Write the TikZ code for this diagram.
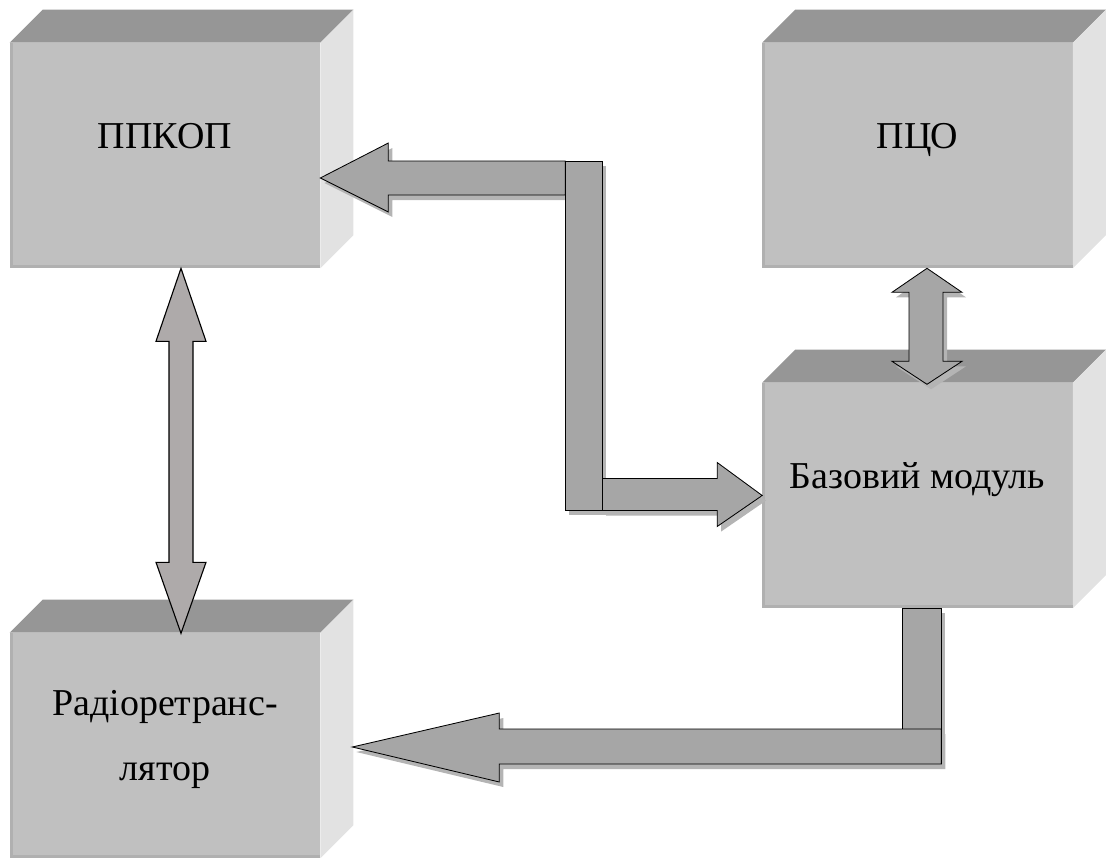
\documentclass[tikz,border=0pt]{standalone}
\usepackage{fontspec}
\setmainfont{Liberation Serif}
\usetikzlibrary{calc}

\definecolor{frontgray}{HTML}{C0C0C0}
\definecolor{topgray}{HTML}{969696}
\definecolor{sidegray}{HTML}{E2E2E2}
\definecolor{rimgray}{HTML}{B0B0B0}
\definecolor{arrowgray}{HTML}{A6A6A6}
\definecolor{warmgray}{HTML}{AEAAAA}
\definecolor{shadowgray}{HTML}{B4B4B4}

\tikzset{
    face/.style={rectangle, fill=frontgray, inner sep=0pt,
        minimum width=7.75cm, minimum height=5.625cm},
    txt/.style={font=\fontsize{27}{46}\selectfont, anchor=base,
        align=center, inner sep=0pt},
    shadowpass/.style={fill=shadowgray, draw=none,
        transform canvas={shift={(4,5)}}},
    arrowpass/.style={fill=arrowgray, draw=black, line width=0.6pt},
}

\begin{document}
\begin{tikzpicture}[x=0.025cm, y=-0.025cm]
    \useasboundingbox (0,0) rectangle (1107,857);
    \clip (0,0) rectangle (1107,857);

    % front faces of the blocks
    \node [face] (ppkop) at (165, 155.5) {};
    \node [face] (pco)   at (917.5, 155.5) {};
    \node [face] (base)  at (917.5, 495.5) {};
    \node [face] (radio) at (165, 745.5) {};

    % top and side faces
    \foreach \b in {ppkop, pco, base, radio} {
        \fill [topgray] (\b.north west) -- ++(33,-33)
            -- ($(\b.north east)+(33,-33)$) -- (\b.north east) -- cycle;
        \fill [sidegray] (\b.north east) -- ++(33,-33)
            -- ($(\b.south east)+(33,-33)$) -- (\b.south east) -- cycle;
        \draw [rimgray, line width=0.07cm]
            ($(\b.north west)+(1.5,0)$) -- ($(\b.south west)+(1.5,-1.5)$)
            -- ($(\b.south east)+(0,-1.5)$);
    }

    \node [txt] (ppkop-txt) at ($(ppkop.center)+(0,-7.5)$) {ППКОП};
    \node [txt] (pco-txt)   at ($(pco.center)+(0,-7.5)$) {ПЦО};
    \node [txt] (base-txt)  at ($(base.center)+(0,-7.5)$) {Базовий модуль};
    \node [txt] (radio-txt) at ($(radio.center)+(0,34.5)$)
        {Радіоретранс-\\лятор};

    % block arrows, shadow first
    \foreach \st in {shadowpass, arrowpass} {
        % to ППКОП
        \path [\st] ($(ppkop.east)+(0,22.5)$) -- ++(68,-35) -- ++(0,18)
            -- ++(177,0) -- ++(0,34) -- ++(-177,0) -- ++(0,17) -- cycle;
        % to base module
        \path [\st] (base.west) -- ++(-45,-33) -- ++(0,16) -- ++(-115,0)
            -- ++(0,32) -- ++(115,0) -- ++(0,16) -- cycle;
        \path [\st] ($(ppkop.east)+(245,5.5)$) rectangle ++(37,349);
        % ПЦО <-> base module
        \path [\st] ($(pco.south)+(9.5,0)$) -- ++(35,24) -- ++(-19,0)
            -- ++(0,69) -- ++(19,0) -- ++(-35,23) -- ++(-35,-23)
            -- ++(17,0) -- ++(0,-69) -- ++(-17,0) -- cycle;
        % base module to radio
        \path [\st] ($(base.south)+(-15.5,0)$) rectangle ++(39,122);
        \path [\st] ($(radio.east)+(32,1.5)$) -- ++(147,-34) -- ++(0,16)
            -- ++(442,0) -- ++(0,35) -- ++(-442,0) -- ++(0,18) -- cycle;
    }

    % ППКОП <-> radio
    \draw [fill=warmgray, line width=0.8pt] ($(ppkop.south)+(16,0)$)
        -- ++(25,73) -- ++(-13,0) -- ++(0,221) -- ++(13,0) -- ++(-25,71)
        -- ++(-25,-71) -- ++(13,0) -- ++(0,-221) -- ++(-13,0) -- cycle;
\end{tikzpicture}
\end{document}
